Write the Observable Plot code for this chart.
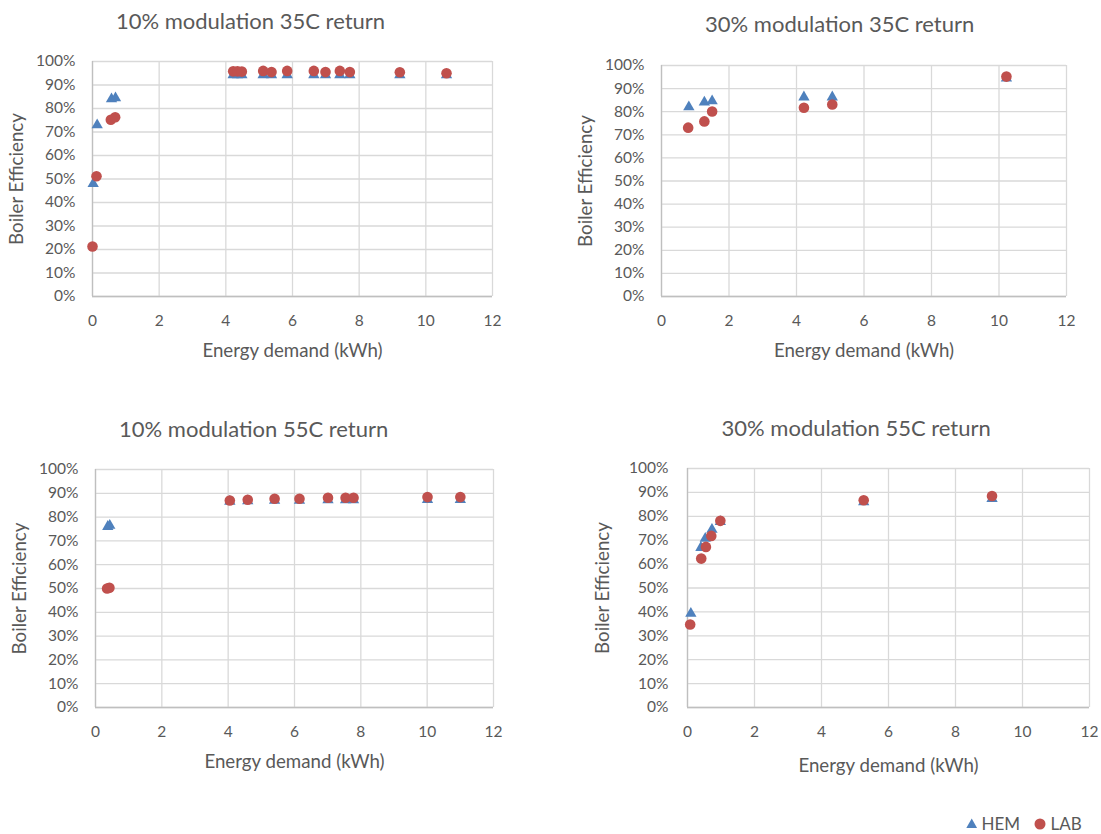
<!DOCTYPE html>
<html><head><meta charset="utf-8">
<script src="https://cdn.jsdelivr.net/npm/d3@7"></script>
<script src="https://cdn.jsdelivr.net/npm/@observablehq/plot@0.6"></script>
<style>
body{margin:0;background:#fff;font-family:Lato,sans-serif;color:#595959}
#root{position:relative;width:1101px;height:834px;overflow:hidden;background:#fff}
.panel{position:absolute}
.panel svg{overflow:visible}
.title{position:absolute;transform:translate(-50%,-50%);white-space:nowrap;font-size:22px;line-height:1;color:#595959}
#legend{position:absolute;left:960px;top:812px}
</style></head><body><div id="root"></div>
<script>
// ---- Data ----
const titles = ["10% modulation 35C return", "30% modulation 35C return", "10% modulation 55C return", "30% modulation 55C return"];
const seriesNames = ["HEM", "LAB"];
const xLabel = "Energy demand (kWh)";
const yLabel = "Boiler Efficiency";
const xTicks = [0, 2, 4, 6, 8, 10, 12];
const yTicks = [0, 0.1, 0.2, 0.3, 0.4, 0.5, 0.6, 0.7, 0.8, 0.9, 1.0];

// 10% modulation 35C return
const hem35_10_x = [0.02, 0.14, 0.57, 0.69, 4.22, 4.35, 4.48, 5.12, 5.37, 5.84, 6.64, 6.99, 7.42, 7.72, 9.22, 10.62];
const hem35_10_y = [0.48, 0.73, 0.84, 0.845, 0.943, 0.943, 0.943, 0.943, 0.943, 0.943, 0.943, 0.943, 0.943, 0.943, 0.943, 0.943];
const lab35_10_x = [0.0, 0.12, 0.55, 0.68, 4.22, 4.35, 4.48, 5.12, 5.37, 5.84, 6.64, 6.99, 7.42, 7.72, 9.22, 10.62];
const lab35_10_y = [0.213, 0.512, 0.752, 0.763, 0.958, 0.958, 0.957, 0.96, 0.955, 0.96, 0.96, 0.955, 0.96, 0.955, 0.954, 0.95];

// 30% modulation 35C return
const hem35_30_x = [0.81, 1.27, 1.50, 4.22, 5.06, 10.22];
const hem35_30_y = [0.82, 0.841, 0.846, 0.863, 0.863, 0.945];
const lab35_30_x = [0.79, 1.27, 1.50, 4.22, 5.06, 10.22];
const lab35_30_y = [0.731, 0.758, 0.801, 0.817, 0.831, 0.952];

// 10% modulation 55C return
const hem55_10_x = [0.37, 0.43, 4.05, 4.59, 5.40, 6.15, 7.01, 7.54, 7.78, 10.01, 11.0];
const hem55_10_y = [0.76, 0.765, 0.866, 0.868, 0.87, 0.87, 0.872, 0.872, 0.872, 0.873, 0.873];
const lab55_10_x = [0.35, 0.42, 4.05, 4.59, 5.40, 6.15, 7.01, 7.54, 7.78, 10.01, 11.0];
const lab55_10_y = [0.50, 0.503, 0.87, 0.873, 0.877, 0.877, 0.881, 0.881, 0.881, 0.884, 0.884];

// 30% modulation 55C return
const hem55_30_x = [0.10, 0.40, 0.53, 0.73, 0.98, 5.26, 9.09];
const hem55_30_y = [0.393, 0.669, 0.707, 0.745, 0.777, 0.86, 0.874];
const lab55_30_x = [0.08, 0.41, 0.55, 0.71, 0.98, 5.26, 9.09];
const lab55_30_y = [0.347, 0.623, 0.672, 0.718, 0.781, 0.867, 0.885];

// ---- Styling ----
const BLUE = "#4F81BD", RED = "#C0504D", TEXT = "#595959", GRID = "#d9d9d9", AXIS = "#bfbfbf";
const FONT = "Lato, sans-serif";

const panels = [
  {title: titles[0], hx: hem35_10_x, hy: hem35_10_y, lx: lab35_10_x, ly: lab35_10_y,
   left: 0, top: 40, w: 510, h: 330, mL: 92, mR: 18, mT: 21, mB: 74, yPad: 17, yLab: 83, xLab: 60,
   tx: 250.5, ty: 21.3},
  {title: titles[1], hx: hem35_30_x, hy: hem35_30_y, lx: lab35_30_x, ly: lab35_30_y,
   left: 560, top: 40, w: 541, h: 330, mL: 101, mR: 35, mT: 25, mB: 74, yPad: 17, yLab: 83, xLab: 60,
   tx: 839.7, ty: 24.2},
  {title: titles[2], hx: hem55_10_x, hy: hem55_10_y, lx: lab55_10_x, ly: lab55_10_y,
   left: 0, top: 445, w: 510, h: 335, mL: 95, mR: 17, mT: 24, mB: 73, yPad: 17, yLab: 83, xLab: 60,
   tx: 253.7, ty: 428.8},
  {title: titles[3], hx: hem55_30_x, hy: hem55_30_y, lx: lab55_30_x, ly: lab55_30_y,
   left: 580, top: 445, w: 521, h: 340, mL: 107, mR: 12, mT: 23, mB: 78, yPad: 19, yLab: 92, xLab: 64,
   tx: 856.2, ty: 427.8}
];

const root = document.getElementById("root");

for (const p of panels) {
  const hem = p.hx.map((x, i) => ({x, y: p.hy[i], series: seriesNames[0]}));
  const lab = p.lx.map((x, i) => ({x, y: p.ly[i], series: seriesNames[1]}));
  const chart = Plot.plot({
    width: p.w, height: p.h,
    marginLeft: p.mL, marginRight: p.mR, marginTop: p.mT, marginBottom: p.mB,
    style: {fontFamily: FONT, color: TEXT, background: "transparent", overflow: "visible"},
    x: {domain: [0, 12]},
    y: {domain: [0, 1]},
    marks: [
      Plot.gridX(xTicks, {stroke: GRID, strokeOpacity: 1, strokeWidth: 1.3}),
      Plot.gridY(yTicks, {stroke: GRID, strokeOpacity: 1, strokeWidth: 1.3}),
      Plot.ruleX([0], {stroke: AXIS, strokeWidth: 1.3}),
      Plot.ruleY([0], {stroke: AXIS, strokeWidth: 1.3}),
      Plot.axisX(xTicks, {tickSize: 0, tickPadding: 18, fontSize: 15.5, fill: TEXT, label: null}),
      Plot.axisY(yTicks, {tickSize: 0, tickPadding: p.yPad, fontSize: 15.5, fill: TEXT, label: null, tickFormat: d3.format(".0%")}),
      Plot.axisX([], {tickSize: 0, fontSize: 18.7, fill: TEXT, label: xLabel, labelAnchor: "center", labelOffset: p.xLab, labelArrow: "none"}),
      Plot.axisY([], {tickSize: 0, fontSize: 18.7, fill: TEXT, label: yLabel, labelAnchor: "center", labelOffset: p.yLab, labelArrow: "none"}),
      Plot.dot(hem, {x: "x", y: "y", symbol: "triangle", r: 4.2, fill: BLUE}),
      Plot.dot(lab, {x: "x", y: "y", symbol: "circle", r: 5.3, fill: RED})
    ]
  });
  const wrap = document.createElement("div");
  wrap.className = "panel";
  wrap.style.left = p.left + "px";
  wrap.style.top = p.top + "px";
  wrap.appendChild(chart);
  root.appendChild(wrap);

  const t = document.createElement("div");
  t.className = "title";
  t.textContent = p.title;
  t.style.left = p.tx + "px";
  t.style.top = p.ty + "px";
  root.appendChild(t);
}

// ---- Legend ----
const leg = d3.create("svg").attr("id", "legend").attr("width", 141).attr("height", 24)
  .style("font-family", FONT).style("font-size", "17px");
leg.append("path").attr("d", d3.symbol(d3.symbolTriangle, 50)()).attr("transform", "translate(11.7,12.8)").attr("fill", BLUE);
leg.append("text").attr("x", 21.5).attr("y", 12).attr("dy", "0.36em").attr("fill", TEXT).text(seriesNames[0]);
leg.append("circle").attr("cx", 80).attr("cy", 12).attr("r", 5.5).attr("fill", RED);
leg.append("text").attr("x", 90.5).attr("y", 12).attr("dy", "0.36em").attr("fill", TEXT).text(seriesNames[1]);
root.appendChild(leg.node());
</script>
</body></html>
